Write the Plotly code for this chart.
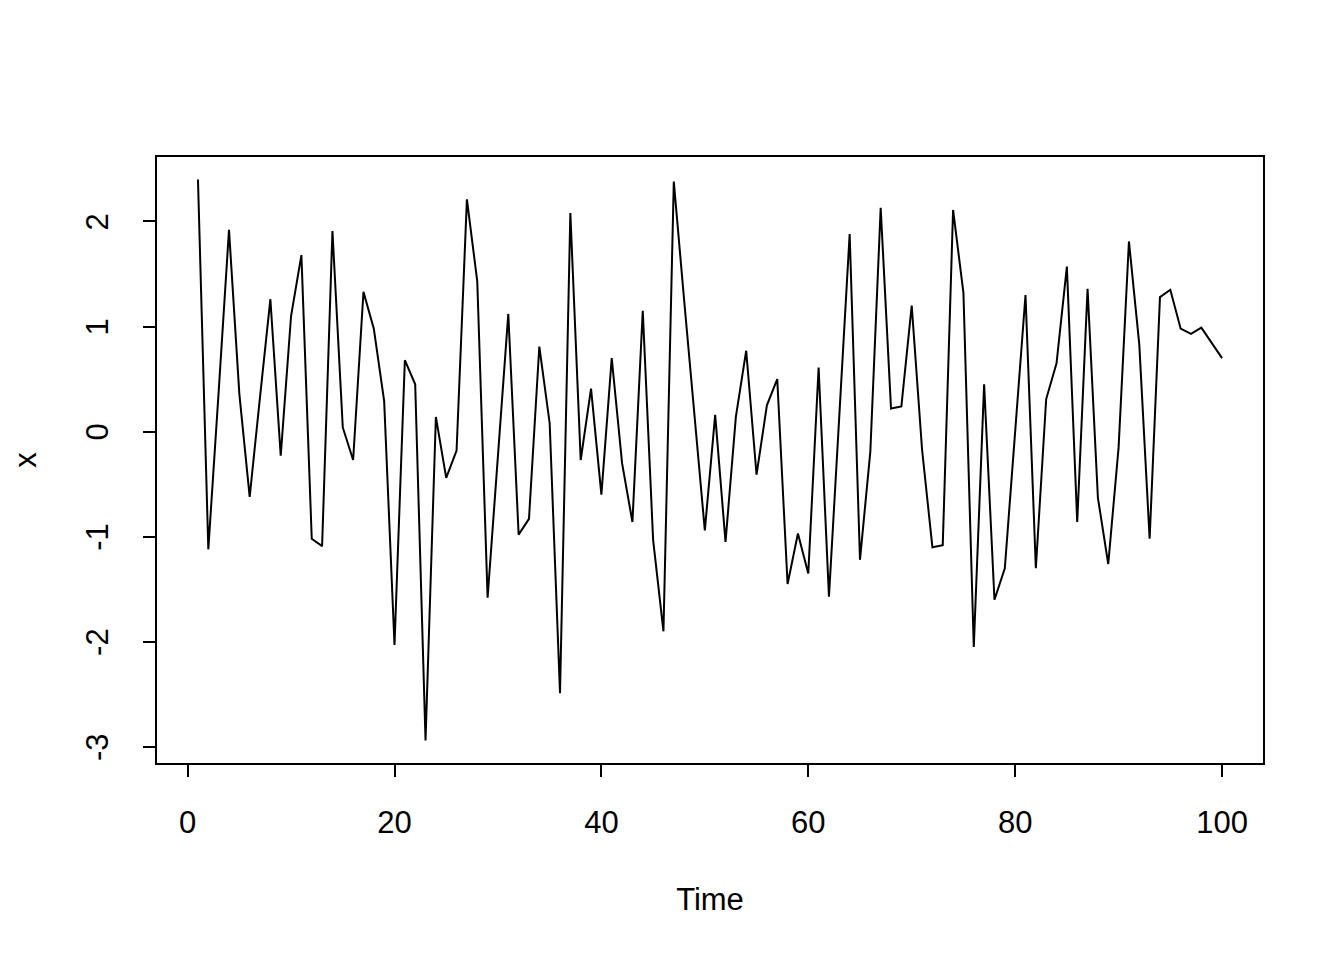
import plotly.graph_objects as go

# Serie temporal (t = 1..100)
tiempo = list(range(1, 101))
x_vals = [
    2.40, -1.12, 0.38, 1.92, 0.36, -0.62, 0.33, 1.26, -0.23, 1.10,
    1.68, -1.02, -1.09, 1.91, 0.04, -0.27, 1.33, 0.98, 0.29, -2.03,
    0.68, 0.45, -2.94, 0.14, -0.44, -0.18, 2.21, 1.43, -1.58, -0.22,
    1.12, -0.98, -0.83, 0.81, 0.08, -2.49, 2.08, -0.27, 0.41, -0.60,
    0.70, -0.30, -0.86, 1.15, -1.03, -1.90, 2.38, 1.25, 0.17, -0.94,
    0.16, -1.05, 0.14, 0.77, -0.41, 0.25, 0.50, -1.45, -0.97, -1.35,
    0.61, -1.57, 0.15, 1.88, -1.22, -0.19, 2.13, 0.22, 0.24, 1.20,
    -0.17, -1.10, -1.08, 2.11, 1.32, -2.05, 0.45, -1.60, -1.30, 0.02,
    1.30, -1.30, 0.31, 0.65, 1.57, -0.86, 1.36, -0.63, -1.26, -0.15,
    1.81, 0.83, -1.02, 1.28, 1.35, 0.98, 0.93, 0.99, 0.84, 0.70,
]
ticks_x = [0, 20, 40, 60, 80, 100]
ticks_y = [-3, -2, -1, 0, 1, 2]

# Rango con 4% de extensión, como en R
def rango(v):
    lo, hi = min(v), max(v)
    d = (hi - lo) * 0.04
    return [lo - d, hi + d]

fuente = dict(family="Liberation Sans, Arial, Helvetica, sans-serif", size=31, color="black")

fig = go.Figure()
fig.add_trace(go.Scatter(
    x=tiempo,
    y=x_vals,
    mode='lines',
    line=dict(color='black', width=2),
    showlegend=False
))

# El body de la página añade 8px de margen
fig.update_layout(
    width=1344,
    height=960,
    margin=dict(l=149, r=89, t=149, b=205),
    plot_bgcolor='white',
    paper_bgcolor='white',
    font=fuente,
)

fig.update_xaxes(
    range=rango(tiempo),
    tickvals=ticks_x,
    ticktext=[str(v) for v in ticks_x],
    ticks='outside', ticklen=12, tickwidth=1.5, tickcolor='black',
    ticklabelstandoff=19,
    showline=True, linecolor='black', linewidth=1.5, mirror=True,
    showgrid=False, zeroline=False, automargin=False,
    title=dict(text='Time', font=fuente, standoff=49),
)
fig.update_yaxes(
    range=rango(x_vals),
    tickvals=ticks_y,
    ticktext=[str(v) for v in ticks_y],
    tickangle=-90,
    ticks='outside', ticklen=12, tickwidth=1.5, tickcolor='black',
    ticklabelstandoff=23,
    ticklabelshift=5,
    showline=True, linecolor='black', linewidth=1.5, mirror=True,
    showgrid=False, zeroline=False, automargin=False,
    title=dict(text='x', font=fuente, standoff=41),
)

fig.write_html("out.html")
